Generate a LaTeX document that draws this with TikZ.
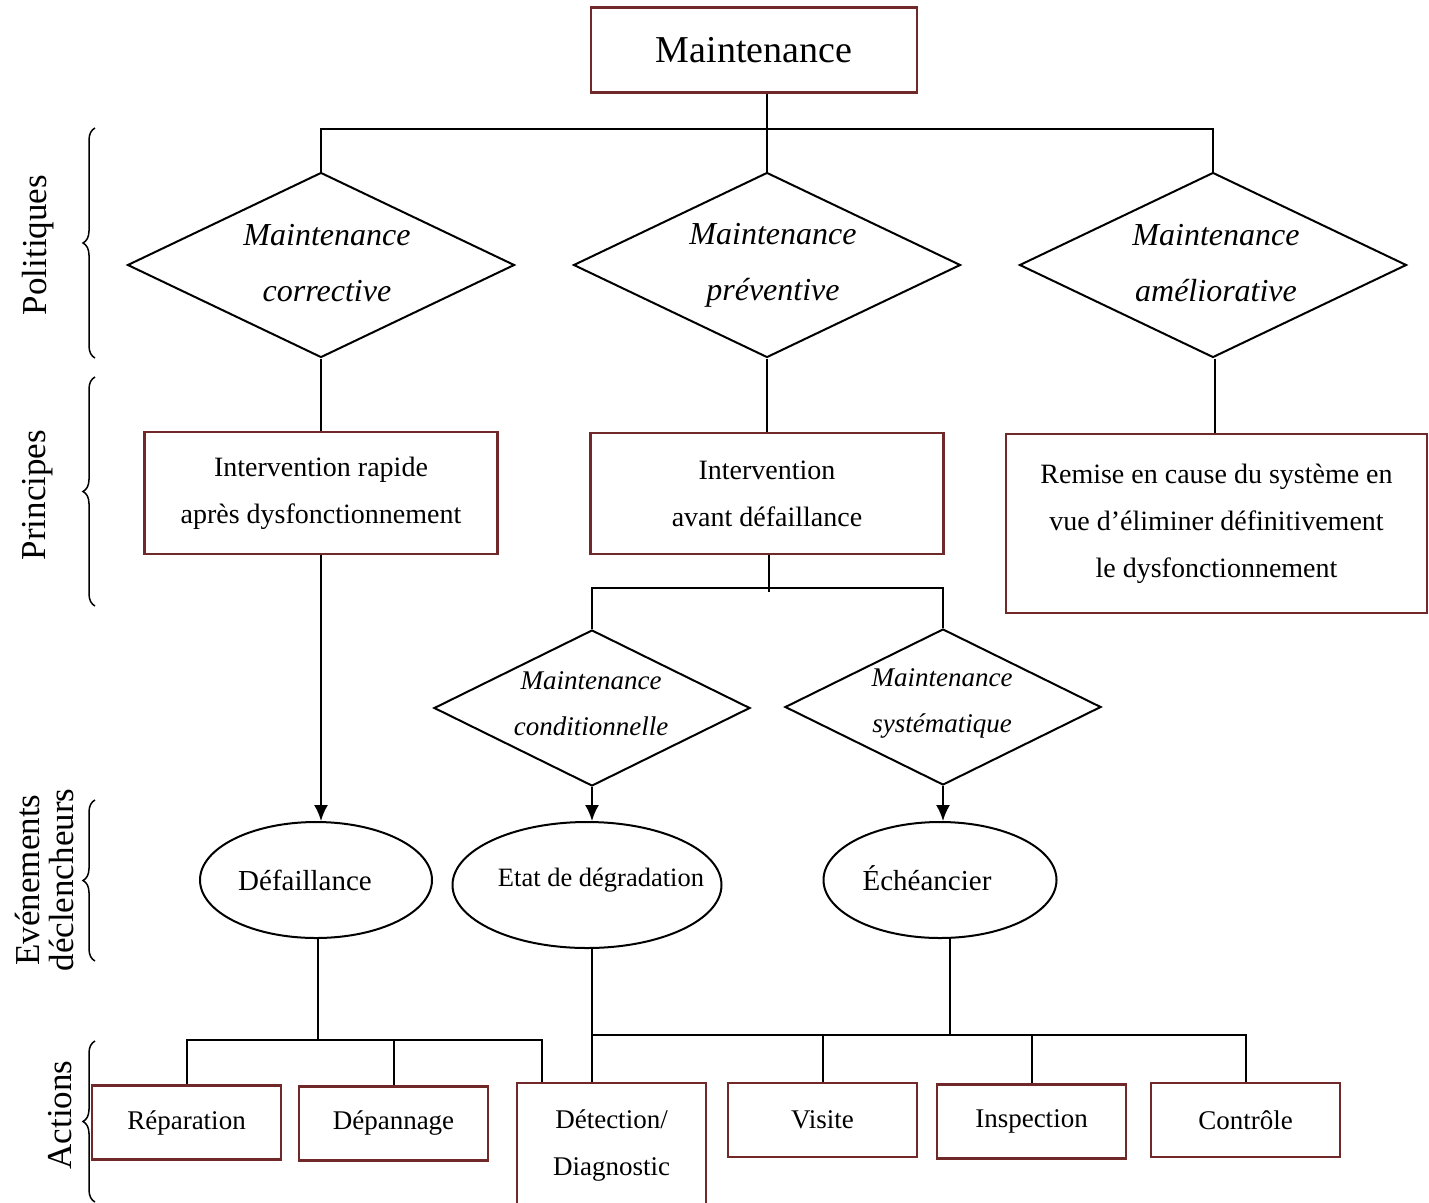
\documentclass[tikz,border=0pt]{standalone}
\usepackage{fontspec}
\setmainfont{Liberation Serif}
\usepackage{tikz}
\usetikzlibrary{arrows.meta,positioning,shapes.geometric,decorations.pathreplacing}
\definecolor{boxred}{RGB}{112,40,40}

\begin{document}
\begin{tikzpicture}[x=1pt, y=-1pt,
        every node/.style={font=\fontsize{28}{47}\selectfont},
        block/.style={draw=boxred, line width=2.6pt, align=center, inner sep=0pt},
        action/.style={block, minimum width=189pt, minimum height=74pt, font=\fontsize{27}{47}\selectfont},
        policy/.style={draw, diamond, line width=2pt, minimum width=387pt, minimum height=185pt, inner sep=0pt},
        subpolicy/.style={draw, diamond, line width=2pt, minimum width=316pt, minimum height=156pt, inner sep=0pt},
        event/.style={draw, ellipse, line width=2pt, inner sep=0pt},
        itxt/.style={align=center, font=\itshape\fontsize{32}{56}\selectfont},
        smalltxt/.style={align=center, font=\itshape\fontsize{27}{46}\selectfont},
        link/.style={line width=2pt},
        arrow/.style={-{Latex[length=16pt, width=14pt]}, line width=2pt},
        brace/.style={decorate, decoration={brace, amplitude=12pt}, line width=1.5pt},
        side/.style={rotate=90, align=center, font=\fontsize{35}{34}\selectfont}
    ]
        \useasboundingbox (0,0) rectangle (1429,1202);

        % top
        \node[block, minimum width=326pt, minimum height=85pt, font=\fontsize{38}{40}\selectfont] (maint) at (754,50) {Maintenance};

        % politiques
        \node[policy] (dcor) at (321,265) {};
        \node[itxt] (dcortxt) at (327,263) {Maintenance\\corrective};
        \node[policy] (dprev) at (767,265) {};
        \node[itxt] (dprevtxt) at (773,265) {Maintenance\\préventive};
        \node[policy] (damel) at (1213,265) {};
        \node[itxt] (dameltxt) at (1216,263) {Maintenance\\améliorative};

        % principes
        \node[block, minimum width=353pt, minimum height=122pt] (bcor) at (321,493) {Intervention rapide\\après dysfonctionnement};
        \node[block, minimum width=353pt, minimum height=121pt] (bprev) at (767,493.5) {Intervention\\avant défaillance};
        \node[block, minimum width=421pt, minimum height=179pt] (bamel) at (1216.5,523.5) {Remise en cause du système en\\vue d'éliminer définitivement\\le dysfonctionnement};

        \node[subpolicy] (dcond) at (592,708) {};
        \node[smalltxt] (dcondtxt) at (591,704) {Maintenance\\conditionnelle};
        \node[subpolicy] (dsys) at (943,707) {};
        \node[smalltxt] (dsystxt) at (942,703) {Maintenance\\systématique};

        % evenements
        \node[event, minimum width=232pt, minimum height=116pt] (efail) at (316,880) {};
        \node[font=\fontsize{29}{30}\selectfont] (efailtxt) at (305,880) {Défaillance};
        \node[event, minimum width=269pt, minimum height=126pt] (edeg) at (587,885) {};
        \node[font=\fontsize{26.5}{30}\selectfont] (edegtxt) at (601,880) {Etat de dégradation};
        \node[event, minimum width=233pt, minimum height=116pt] (esched) at (940,880) {};
        \node[font=\fontsize{29}{30}\selectfont] (eschedtxt) at (927,878) {Échéancier};

        % actions
        \node[action] (arep) at (186.5,1122.5) {Réparation};
        \node[action] (adep) at (393.5,1123.5) {Dépannage};
        \node[action, minimum height=126pt] (adet) at (611.5,1146) {Détection/\\Diagnostic};
        \node[action] (avis) at (822.5,1120) {Visite};
        \node[action] (ainsp) at (1031.5,1121.5) {Inspection};
        \node[action] (actl) at (1245.5,1120) {Contrôle};

        % side labels
        \node[side] (lpol) at (38,245) {Politiques};
        \node[side] (lpri) at (38,495) {Principes};
        \node[side] (levt) at (45,880) {Evénements\\déclencheurs};
        \node[side] (lact) at (60,1115) {Actions};
        \draw[brace] (95,358) -- (95,128);
        \draw[brace] (95,606) -- (95,377);
        \draw[brace] (95,961) -- (95,800);
        \draw[brace] (95,1202) -- (95,1041);

        % connectors
        \draw[link] (dprev.north |- maint.south) -- (dprev.north);
        \draw[link] (dcor.north) -- ++(0,-43) -| (damel.north);
        \draw[link] (dcor.south) -- (dcor.south |- bcor.north);
        \draw[link] (dprev.south) -- (dprev.south |- bprev.north);
        \draw[link] ([xshift=2pt]damel.south) -- ([xshift=2pt]damel.south |- bamel.north);
        \draw[arrow] (bcor.south) -- (bcor.south |- efail.north);

        \draw[link] ([xshift=2pt]bprev.south) -- ++(0,37);
        \draw[link] (dcond.north) -- ++(0,-41) -| (dsys.north);
        \draw[arrow] (dcond.south) -- (dcond.south |- edeg.north);
        \draw[arrow] (dsys.south) -- (dsys.south |- esched.north);

        \coordinate (detleft) at ([xshift=26pt]adet.north west);
        \draw[link] ([xshift=2pt]efail.south) -- ([xshift=2pt]efail.south |- 0,1040);
        \draw[link] (arep.north) |- (detleft |- 0,1040) -- (detleft);
        \draw[link] (adep.north) -- (adep.north |- 0,1040);
        \draw[link] (dcond.south |- edeg.south) -- (dcond.south |- adet.north);

        \draw[link] ([xshift=10pt]esched.south) -- ([xshift=10pt]esched.south |- 0,1035);
        \draw[link] (dcond.south |- 0,1035) -| (actl.north);
        \draw[link] (avis.north) -- (avis.north |- 0,1035);
        \draw[link] (ainsp.north) -- (ainsp.north |- 0,1035);
    \end{tikzpicture}
\end{document}
